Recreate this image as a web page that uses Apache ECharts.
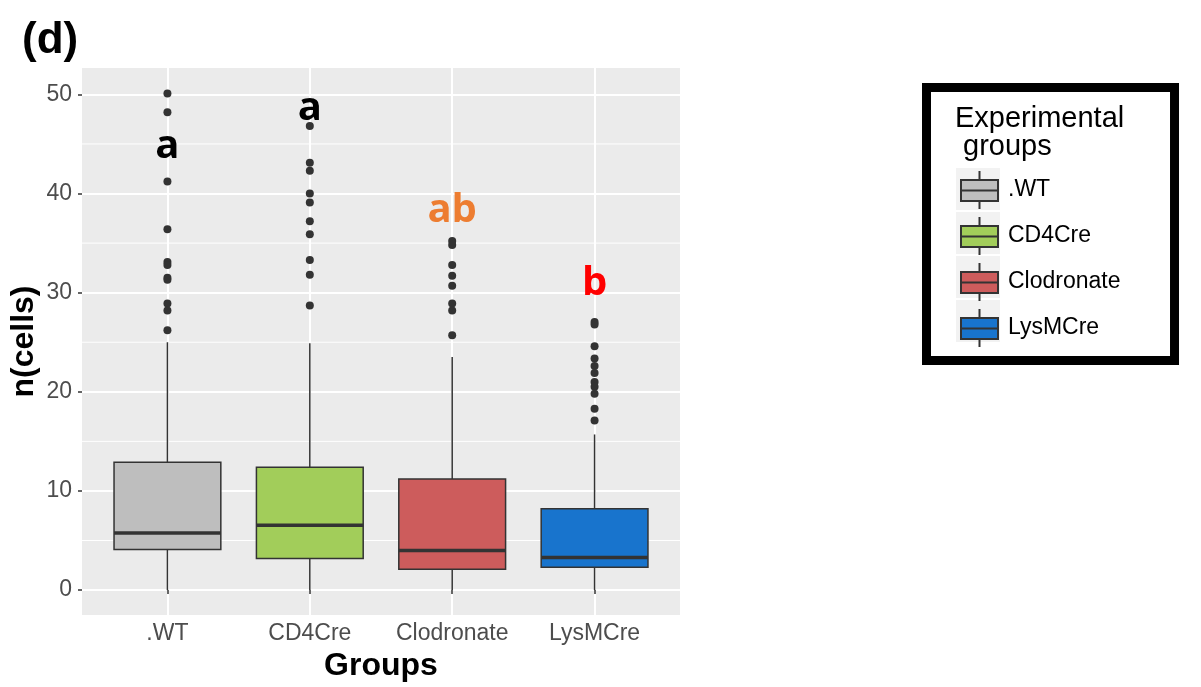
<!DOCTYPE html>
<html>
<head>
<meta charset="utf-8">
<script src="https://cdn.jsdelivr.net/npm/echarts@6/dist/echarts.min.js"></script>
<style>
html,body{margin:0;padding:0;background:#fff;}
#chart{width:1201px;height:687px;}
</style>
</head>
<body>
<div id="chart"></div>
<script>
const categories = ['.WT', 'CD4Cre', 'Clodronate', 'LysMCre'];
const whiskerLow = [0, 0, 0, 0];
const q1 = [4.1, 3.2, 2.1, 2.3];
const median = [5.75, 6.55, 4.0, 3.3];
const q3 = [12.9, 12.4, 11.2, 8.2];
const whiskerHigh = [25.0, 24.9, 23.5, 15.7];
const outliersWT = [50.1, 48.2, 41.2, 36.4, 33.1, 32.8, 31.5, 31.3, 28.9, 28.2, 26.2];
const outliersCD4Cre = [46.8, 43.1, 42.3, 40.0, 39.1, 37.2, 35.9, 33.3, 31.8, 28.7];
const outliersClodronate = [35.2, 34.8, 32.8, 31.7, 30.7, 28.9, 28.2, 25.7];
const outliersLysMCre = [27.05, 26.8, 24.6, 23.35, 22.6, 21.9, 21.0, 20.5, 19.8, 18.3, 17.1];
const yTicks = [0, 10, 20, 30, 40, 50];
const yMinorTicks = [5, 15, 25, 35, 45];
const xTicks = [1, 2, 3, 4];
const letters = ['a', 'a', 'ab', 'b'];
const letterY = [44.7, 48.6, 38.3, 30.9];

const boxColors = ['#bebebe', '#a2cd5a', '#cd5c5c', '#1874cd'];
const letterColors = ['#000000', '#000000', '#ed7d31', '#ff0000'];
const FONT = '"Liberation Sans", Arial, Helvetica, sans-serif';

const outlierGroups = [outliersWT, outliersCD4Cre, outliersClodronate, outliersLysMCre];
const outlierData = [];
outlierGroups.forEach((arr, i) => arr.forEach(v => outlierData.push([i + 1, v])));

function renderBox(params, api) {
  const x = api.value(0);
  const lo = api.value(1), a = api.value(2), m = api.value(3), b = api.value(4), hi = api.value(5);
  const half = 0.375;
  const tl = api.coord([x - half, b]);
  const br = api.coord([x + half, a]);
  const pLo = api.coord([x, lo]);
  const pA = api.coord([x, a]);
  const pB = api.coord([x, b]);
  const pHi = api.coord([x, hi]);
  const mL = api.coord([x - half, m]);
  const mR = api.coord([x + half, m]);
  const stroke = '#333333';
  return {
    type: 'group',
    children: [
      {type: 'line', shape: {x1: pLo[0], y1: pLo[1], x2: pA[0], y2: pA[1]}, style: {stroke, lineWidth: 1.5, lineCap: 'butt'}},
      {type: 'line', shape: {x1: pB[0], y1: pB[1], x2: pHi[0], y2: pHi[1]}, style: {stroke, lineWidth: 1.5, lineCap: 'butt'}},
      {type: 'rect', shape: {x: tl[0], y: tl[1], width: br[0] - tl[0], height: br[1] - tl[1]},
        style: {fill: api.visual('color'), stroke, lineWidth: 1.5}},
      {type: 'line', shape: {x1: mL[0], y1: mL[1], x2: mR[0], y2: mR[1]}, style: {stroke, lineWidth: 3.5}}
    ]
  };
}

const boxSeries = categories.map((name, i) => ({
  name: name,
  type: 'custom',
  z: 3,
  renderItem: renderBox,
  itemStyle: {color: boxColors[i]},
  encode: {x: 0, y: [1, 2, 3, 4, 5]},
  data: [[i + 1, whiskerLow[i], q1[i], median[i], q3[i], whiskerHigh[i]]]
}));

const boxIcon = 'path://M18.5,0 L18.5,9 M0,9 L37,9 L37,30 L0,30 Z M0,19.5 L37,19.5 M18.5,30 L18.5,38';

const chart = echarts.init(document.getElementById('chart'), null, {renderer: 'canvas'});
chart.setOption({
  animation: false,
  backgroundColor: '#ffffff',
  title: [{
    text: '(d)', left: 17, top: 14,
    textStyle: {fontFamily: FONT, fontWeight: 'bold', fontSize: 44, color: '#000'}
  }, {
    text: 'Experimental\n groups', left: 950, top: 100,
    textStyle: {fontFamily: FONT, fontWeight: 'normal', fontSize: 29, lineHeight: 28, color: '#000'}
  }],
  legend: [{
    orient: 'vertical', left: 956, top: 168, padding: 0,
    itemWidth: 44, itemHeight: 42, itemGap: 2,
    icon: 'rect', selectedMode: false,
    itemStyle: {color: '#f2f2f2', borderWidth: 0},
    formatter: () => '',
    data: categories
  }, {
    orient: 'vertical', left: 926.5, top: 87.5,
    padding: [82.5, 54, 12.5, 33.5],
    borderColor: '#000', borderWidth: 9,
    itemWidth: 37, itemHeight: 38, itemGap: 6,
    selectedMode: false,
    icon: boxIcon,
    itemStyle: {borderColor: '#333333', borderWidth: 2},
    textStyle: {fontFamily: FONT, fontSize: 23, color: '#000', padding: [0, 0, 0, 5]},
    data: categories
  }],
  grid: {
    left: 82, top: 68, width: 598, height: 547,
    show: true, backgroundColor: '#ebebeb', borderWidth: 0,
    containLabel: false, outerBoundsMode: 'none'
  },
  xAxis: {
    type: 'value', min: 0.4, max: 4.6,
    name: 'Groups', nameLocation: 'middle', nameGap: 31,
    nameTextStyle: {fontFamily: FONT, fontWeight: 'bold', fontSize: 32, color: '#000'},
    axisLine: {show: false},
    axisTick: {show: true, customValues: xTicks, length: 4, lineStyle: {color: '#333', width: 1.5}},
    axisLabel: {customValues: xTicks, formatter: v => categories[Math.round(v) - 1] || '',
      fontFamily: FONT, fontSize: 23, color: '#4d4d4d', margin: 7},
    splitLine: {show: true, lineStyle: {color: '#ffffff', width: 2}}
  },
  yAxis: {
    type: 'value', min: -2.51, max: 52.66,
    name: 'n(cells)', nameLocation: 'middle', nameGap: 42, nameRotate: 90,
    nameTextStyle: {fontFamily: FONT, fontWeight: 'bold', fontSize: 32, color: '#000'},
    axisLine: {show: false},
    axisTick: {show: true, customValues: yTicks, length: 4, lineStyle: {color: '#333', width: 1.5}},
    axisLabel: {customValues: yTicks, fontFamily: FONT, fontSize: 23, color: '#4d4d4d', margin: 10},
    splitLine: {show: true, lineStyle: {color: '#ffffff', width: 2}}
  },
  series: [{
    name: 'minorGrid',
    type: 'custom',
    z: 1,
    silent: true,
    data: yMinorTicks.map(v => [v]),
    encode: {y: 0},
    renderItem: function (params, api) {
      const v = api.value(0);
      const p1 = api.coord([0.4, v]);
      const p2 = api.coord([4.6, v]);
      return {type: 'line', shape: {x1: p1[0], y1: p1[1], x2: p2[0], y2: p2[1]},
        style: {stroke: '#ffffff', lineWidth: 1}};
    }
  }].concat(boxSeries).concat([{
    name: 'outliers',
    type: 'scatter',
    z: 4,
    symbol: 'circle',
    symbolSize: 8,
    itemStyle: {color: '#333333', opacity: 1},
    data: outlierData
  }, {
    name: 'letters',
    type: 'custom',
    z: 5,
    silent: true,
    data: letters.map((l, i) => [i + 1, letterY[i], i]),
    encode: {x: 0, y: 1},
    renderItem: function (params, api) {
      const idx = api.value(2);
      const p = api.coord([api.value(0), api.value(1)]);
      return {type: 'text', x: p[0], y: p[1],
        style: {text: letters[idx], fill: letterColors[idx],
          font: 'bold 40px "Open Sans", sans-serif', align: 'center', verticalAlign: 'middle'}};
    }
  }])
});
</script>
</body>
</html>
